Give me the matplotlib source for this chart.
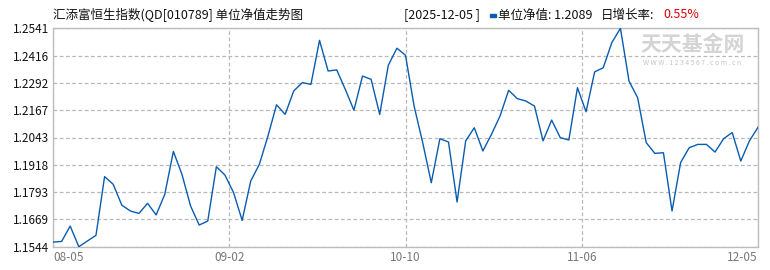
import matplotlib
matplotlib.use('Agg')
import matplotlib.pyplot as plt
import numpy as np
from matplotlib.patches import Rectangle

plt.rcParams['font.family'] = ['Noto Sans CJK SC', 'DejaVu Sans']

#
# data
#
nav = [1.1565, 1.1568, 1.1638, 1.1544, 1.1570, 1.1596, 1.1864, 1.1829, 1.1734, 1.1707,
       1.1696, 1.1742, 1.1689, 1.1783, 1.1979, 1.1874, 1.1730, 1.1643, 1.1661, 1.1909,
       1.1871, 1.1791, 1.1664, 1.1844, 1.1920, 1.2049, 1.2192, 1.2148, 1.2255, 1.2293,
       1.2285, 1.2486, 1.2346, 1.2351, 1.2262, 1.2167, 1.2323, 1.2308, 1.2148, 1.2372,
       1.2450, 1.2418, 1.2186, 1.2019, 1.1836, 1.2037, 1.2022, 1.1748, 1.2027, 1.2087,
       1.1981, 1.2057, 1.2141, 1.2258, 1.2220, 1.2209, 1.2186, 1.2027, 1.2122, 1.2042,
       1.2031, 1.2270, 1.2160, 1.2342, 1.2361, 1.2476, 1.2541, 1.2300, 1.2224, 1.2019,
       1.1970, 1.1973, 1.1707, 1.1928, 1.1996, 1.2011, 1.2011, 1.1976, 1.2037, 1.2065,
       1.1935, 1.2027, 1.2089]
date_labels = ['08-05', '09-02', '10-10', '11-06', '12-05']
y_labels = ['1.1544', '1.1669', '1.1793', '1.1918', '1.2043', '1.2167', '1.2292', '1.2416', '1.2541']

title = '汇添富恒生指数(QD[010789] 单位净值走势图'
last_date = '[2025-12-05 ]'
last_nav = '单位净值: 1.2089'
day_rate = '0.55%'

x = np.arange(len(nav))
y_min, y_max = float(y_labels[0]), float(y_labels[-1])

fig = plt.figure(figsize=(7.7, 2.7), dpi=100)
ax = fig.add_axes([53 / 770, 23.3 / 270, 705 / 770, 218.4 / 270])

ax.plot(x, nav, color='#0a5cb0', lw=1.0, zorder=3)
ax.set_xlim(0, len(nav) - 1)
ax.set_ylim(y_min, y_max)

ax.set_xticks(np.linspace(0, len(nav) - 1, len(date_labels)))
ax.set_xticklabels(date_labels, color='#777777', fontsize=8.5)
xt = ax.get_xticklabels()
xt[0].set_ha('left')
xt[-1].set_ha('right')
ax.set_yticks(np.linspace(y_min, y_max, len(y_labels)))
ax.set_yticklabels(y_labels, color='#111111', fontsize=8.5)
ax.tick_params(axis='both', length=0, pad=3)

ax.grid(True, color='#b8b8b8', ls=(0, (3, 2)), lw=0.9)
for s in ax.spines.values():
    s.set_color('#bdbdbd')
    s.set_linewidth(1.0)

# watermark
ax.text(0.907, 0.925, '天天基金网', transform=ax.transAxes, ha='center', va='center',
        fontsize=15, fontweight='bold', color='#d4d4d4', zorder=1)
ax.text(0.907, 0.843, 'W W W . 1 2 3 4 5 6 7 . c o m . c n', transform=ax.transAxes,
        ha='center', va='center', fontsize=5, color='#c4c4c4', zorder=1)

#
# header
#
fig.text(53 / 770, 1 - 15 / 270, title, ha='left', va='center', fontsize=9, color='#111111')
fig.text(404 / 770, 1 - 15 / 270, last_date, ha='left', va='center', fontsize=9, color='#111111')
fig.patches.append(Rectangle((490 / 770, 1 - 17 / 270), 6 / 770, 3 / 270,
                             transform=fig.transFigure, color='#0a5cb0', figure=fig))
fig.text(498 / 770, 1 - 15 / 270, last_nav, ha='left', va='center', fontsize=9, color='#111111')
fig.text(601 / 770, 1 - 15 / 270, '日增长率:', ha='left', va='center', fontsize=9, color='#111111')
fig.text(663 / 770, 1 - 15 / 270, day_rate, ha='left', va='center', fontsize=9, color='#dd0000')

fig.savefig('out.png', dpi=100)
